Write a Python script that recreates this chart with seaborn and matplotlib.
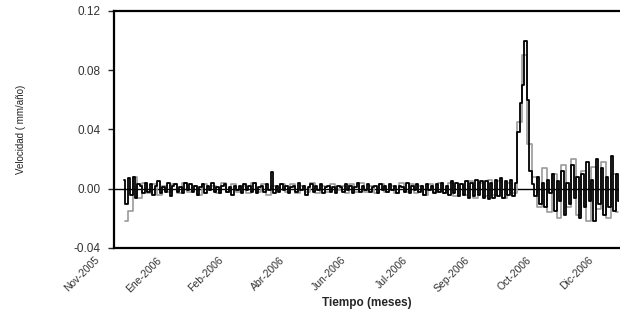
import matplotlib
matplotlib.use("Agg")
import matplotlib.pyplot as plt
import matplotlib.transforms as mtransforms
import numpy as np
import pandas as pd
import seaborn as sns

# ---- data ----
tick_labels = ["Nov-2005", "Ene-2006", "Feb-2006", "Abr-2006", "Jun-2006",
               "Jul-2006", "Sep-2006", "Oct-2006", "Dic-2006"]
tick_positions = [0, 50, 100, 150, 200, 250, 300, 350, 400]

black_idx = list(range(8, 411, 2))
black_vals = [
    0.006, -0.010, 0.007, -0.004, 0.008, -0.006, 0.003,
    0.002, -0.003, 0.004, -0.002, 0.003, -0.004, 0.002, 0.005, -0.003, 0.001,
    -0.002, 0.004, -0.005, 0.002, 0.003, -0.002, 0.001, -0.003, 0.004, -0.001,
    0.003, -0.002, 0.002, -0.004, 0.001, 0.003, -0.003, 0.002, -0.001, 0.004,
    -0.002, 0.001, -0.003, 0.002, 0.003, -0.002, 0.001, -0.004, 0.002, -0.001,
    0.002, -0.003, 0.003, -0.001, 0.002, -0.002, 0.004, -0.003, 0.001, 0.002,
    -0.002, 0.003, -0.001, 0.011, -0.003, 0.002, -0.002, 0.003, -0.001, 0.002,
    -0.003, 0.001, 0.002, -0.002, 0.004, -0.001, 0.002, -0.004, 0.001, 0.003,
    -0.002, 0.002, -0.001, 0.003, -0.003, 0.001, 0.002, -0.002, 0.001, -0.003,
    0.002, 0.001, -0.002, 0.003, -0.001, 0.002, -0.003, 0.001, 0.004, -0.002,
    0.002, -0.001, 0.003, -0.002, 0.001, 0.002, -0.003, 0.003, -0.001, 0.002,
    -0.002, 0.003, -0.001, 0.002, -0.003, 0.002, 0.001, -0.002, 0.004, -0.003,
    0.002, -0.001, 0.003, -0.002, 0.002, -0.004, 0.003, -0.001, 0.002, -0.003,
    0.003, -0.002, 0.004, -0.003, 0.002, -0.004, 0.005, -0.003, 0.004, -0.005,
    0.003, -0.004, 0.005, -0.006, 0.004, -0.005, 0.006, -0.004, 0.005, -0.006,
    0.005, -0.007, 0.004, -0.006, 0.006, -0.005, 0.007, -0.006, 0.005, -0.004,
    0.006, -0.005, 0.004,
    0.038, 0.058, 0.070, 0.100, 0.060, 0.012, 0.003,
    -0.005, 0.008, -0.010, 0.004, -0.012, 0.006, -0.003, 0.010, -0.015, 0.005,
    -0.008, 0.012, -0.018, 0.004, -0.010, 0.016, -0.006, 0.008, -0.020, 0.010,
    -0.012, 0.018, -0.008, 0.006, -0.022, 0.020, -0.010, 0.014, -0.018, 0.008,
    -0.012, 0.022, -0.015, 0.010, -0.008,
]

gray_idx = list(range(9, 410, 4))
gray_vals = [
    -0.022, -0.015, 0.008, -0.006, 0.004, -0.003, 0.003, -0.004, 0.002, -0.002, 0.003,
    -0.003, 0.004, -0.002, 0.002, -0.004, 0.003, -0.001, 0.002, -0.003, 0.004, -0.002,
    0.003, -0.002, 0.002, -0.003, 0.004, -0.002, 0.003, -0.004, 0.002, -0.001, 0.003,
    -0.002, 0.003, -0.003, 0.002, -0.002, 0.004, -0.003, 0.002, -0.002, 0.003, -0.001,
    0.002, -0.003, 0.003, -0.002, 0.004, -0.002, 0.002, -0.003, 0.003, -0.002, 0.002,
    -0.003, 0.004, -0.002, 0.003, -0.003, 0.002, -0.004, 0.003, -0.002, 0.004, -0.003,
    0.004, -0.005, 0.003, -0.004, 0.005, -0.006, 0.004, -0.005, 0.006, -0.004, 0.005,
    -0.006, 0.004, -0.003, 0.045, 0.090, 0.030,
    0.008, -0.012, 0.014, -0.016, 0.010, -0.020, 0.016, -0.012, 0.020, -0.018,
    0.012, -0.022, 0.015, -0.014, 0.018, -0.020, 0.010, -0.016,
]

y_ticks = [-0.04, 0.00, 0.04, 0.08, 0.12]

# ---- plot ----
sns.set_style("ticks")
plt.rcParams["font.family"] = ["Liberation Sans", "DejaVu Sans"]

fig = plt.figure(figsize=(6.2, 3.34), dpi=100)
ax = fig.add_axes([0.184, 0.2575, 0.815, 0.7096])

df_g = pd.DataFrame({"t": gray_idx, "v": gray_vals})
df_b = pd.DataFrame({"t": black_idx, "v": black_vals})
sns.lineplot(data=df_g, x="t", y="v", ax=ax, color="#9a9a9a", lw=1.2,
             drawstyle="steps-mid")
sns.lineplot(data=df_b, x="t", y="v", ax=ax, color="black", lw=1.3,
             drawstyle="steps-mid")

ax.axhline(0, color="black", lw=1.0, zorder=0.5)

ax.set_xlim(0, 410)
ax.set_ylim(-0.04, 0.12)
ax.set_yticks(y_ticks)
ax.set_yticklabels([f"{v:.2f}" for v in y_ticks], fontsize=8.5, color="#333333")
ax.set_xticks(tick_positions)
ax.set_xticklabels(tick_labels, rotation=45, ha="right", rotation_mode="anchor",
                   fontsize=7.5, color="#333333")
ax.tick_params(axis="x", length=0, pad=5)
ax.tick_params(axis="y", length=4.5, width=1.0, direction="out", pad=5)

offset = mtransforms.ScaledTranslation(-14 / 72, 0, fig.dpi_scale_trans)
for lbl in ax.get_xticklabels():
    lbl.set_transform(lbl.get_transform() + offset)

for s in ["left", "bottom", "top"]:
    ax.spines[s].set_linewidth(1.6)
    ax.spines[s].set_color("black")
ax.spines["right"].set_visible(False)

ax.set_xlabel("Tiempo (meses)", fontsize=8.5, fontweight="bold", labelpad=2)
ax.set_ylabel("Velocidad ( mm/año)", fontsize=7, color="#222222")
ax.yaxis.set_label_coords(-0.175, 0.5)

fig.savefig("out.png", dpi=100)
